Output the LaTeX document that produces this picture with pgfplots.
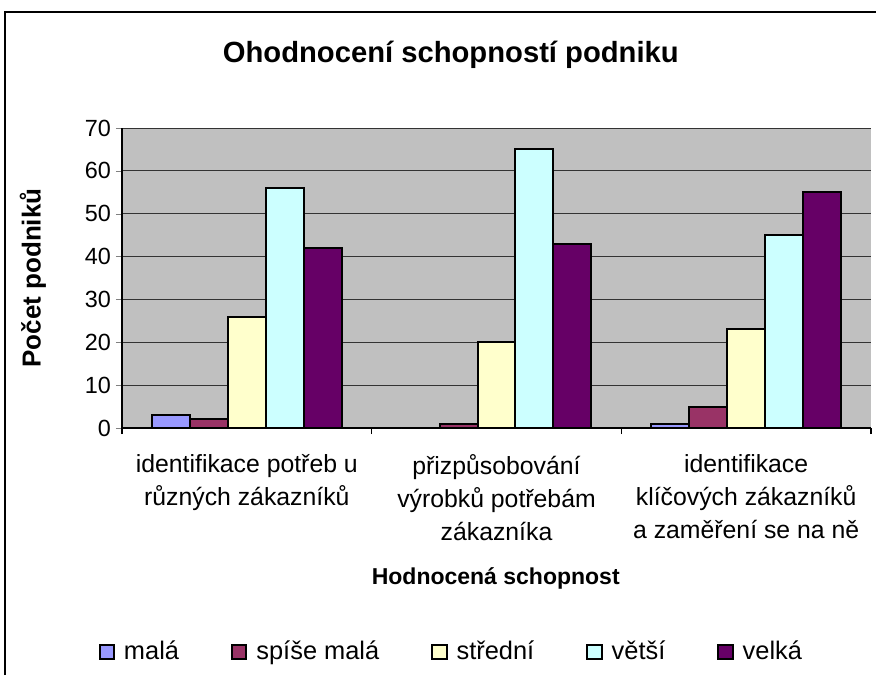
\documentclass[border=0pt]{standalone}
\usepackage{fontspec}
\setmainfont{Liberation Sans}
\usepackage{pgfplots}
\pgfplotsset{compat=1.18}

\definecolor{plotbg}{HTML}{C0C0C0}
\definecolor{cmala}{HTML}{9999FF}
\definecolor{cspise}{HTML}{993366}
\definecolor{cstred}{HTML}{FFFFCC}
\definecolor{cvetsi}{HTML}{CCFFFF}
\definecolor{cvelka}{HTML}{660066}

\begin{document}
\begin{tikzpicture}[x=1pt,y=1pt]
\useasboundingbox (0,0) rectangle (438,337.5);
% outer chart frame (only left and top edges are inside the picture)
\draw[line width=0.7pt] (2.5,0) -- (2.5,331.5) -- (438,331.5);
\begin{axis}[
    at={(61pt,123.5pt)}, anchor=south west,
    width=374.5pt, height=150pt, scale only axis,
    ybar=0pt, bar width=0.152,
    xmin=-0.5, xmax=2.5, ymin=0, ymax=70,
    enlargelimits=false,
    axis background/.style={fill=plotbg},
    axis lines=left, axis line style={-, line width=0.6pt},
    ytick={0,10,...,70},
    ymajorgrids, grid style={black!80, line width=0.5pt},
    tick align=outside, ytick pos=left,
    major tick length=3pt,
    /pgf/number format/assume math mode=true,
    yticklabel style={font=\fontsize{11.7}{14}\selectfont, xshift=1pt},
    xtick={0,1,2},
    xtick style={draw=none},
    xticklabels={{identifikace potřeb u\\různých zákazníků},
                 {přizpůsobování\\výrobků potřebám\\zákazníka},
                 {identifikace\\klíčových zákazníků\\a zaměření se na ně}},
    xticklabel style={font=\fontsize{12.4}{16.5}\selectfont, align=center, anchor=north, yshift=-6.5pt},
    extra x ticks={-0.5,0.5,1.5,2.5},
    extra x tick labels={},
    extra x tick style={xtick style={draw=black, line width=0.6pt}, major tick length=3pt},
    title={Ohodnocení schopností podniku},
    title style={font=\bfseries\fontsize{14.6}{17}\selectfont, at={(axis description cs:0.439,1.203)}, anchor=center},
    xlabel={Hodnocená schopnost},
    xlabel style={font=\bfseries\fontsize{11.5}{14}\selectfont, at={(axis description cs:0.499,-0.5)}, anchor=center},
    ylabel={Počet podniků},
    ylabel style={font=\bfseries\fontsize{13}{15}\selectfont, at={(axis description cs:-0.119,0.5)}, anchor=center},
    legend columns=5,
    legend style={at={(0.441,-0.746)}, anchor=center, draw=none, fill=none,
        font=\fontsize{12.7}{15}\selectfont,
        /tikz/every odd column/.append style={column sep=2.5pt},
        /tikz/every even column/.append style={column sep=24pt}},
    legend image code/.code={\draw[#1, draw=black, line width=1pt] (0pt,-3.6pt) rectangle (7.2pt,3.6pt);},
]
\addplot[fill=cmala, draw=black, line width=1pt] coordinates {(0,3) (1,0) (2,1)};
\addplot[fill=cspise, draw=black, line width=1pt] coordinates {(0,2) (1,1) (2,5)};
\addplot[fill=cstred, draw=black, line width=1pt] coordinates {(0,26) (1,20) (2,23)};
\addplot[fill=cvetsi, draw=black, line width=1pt] coordinates {(0,56) (1,65) (2,45)};
\addplot[fill=cvelka, draw=black, line width=1pt] coordinates {(0,42) (1,43) (2,55)};
\legend{malá, spíše malá, střední, větší, velká}
\end{axis}
\end{tikzpicture}
\end{document}
